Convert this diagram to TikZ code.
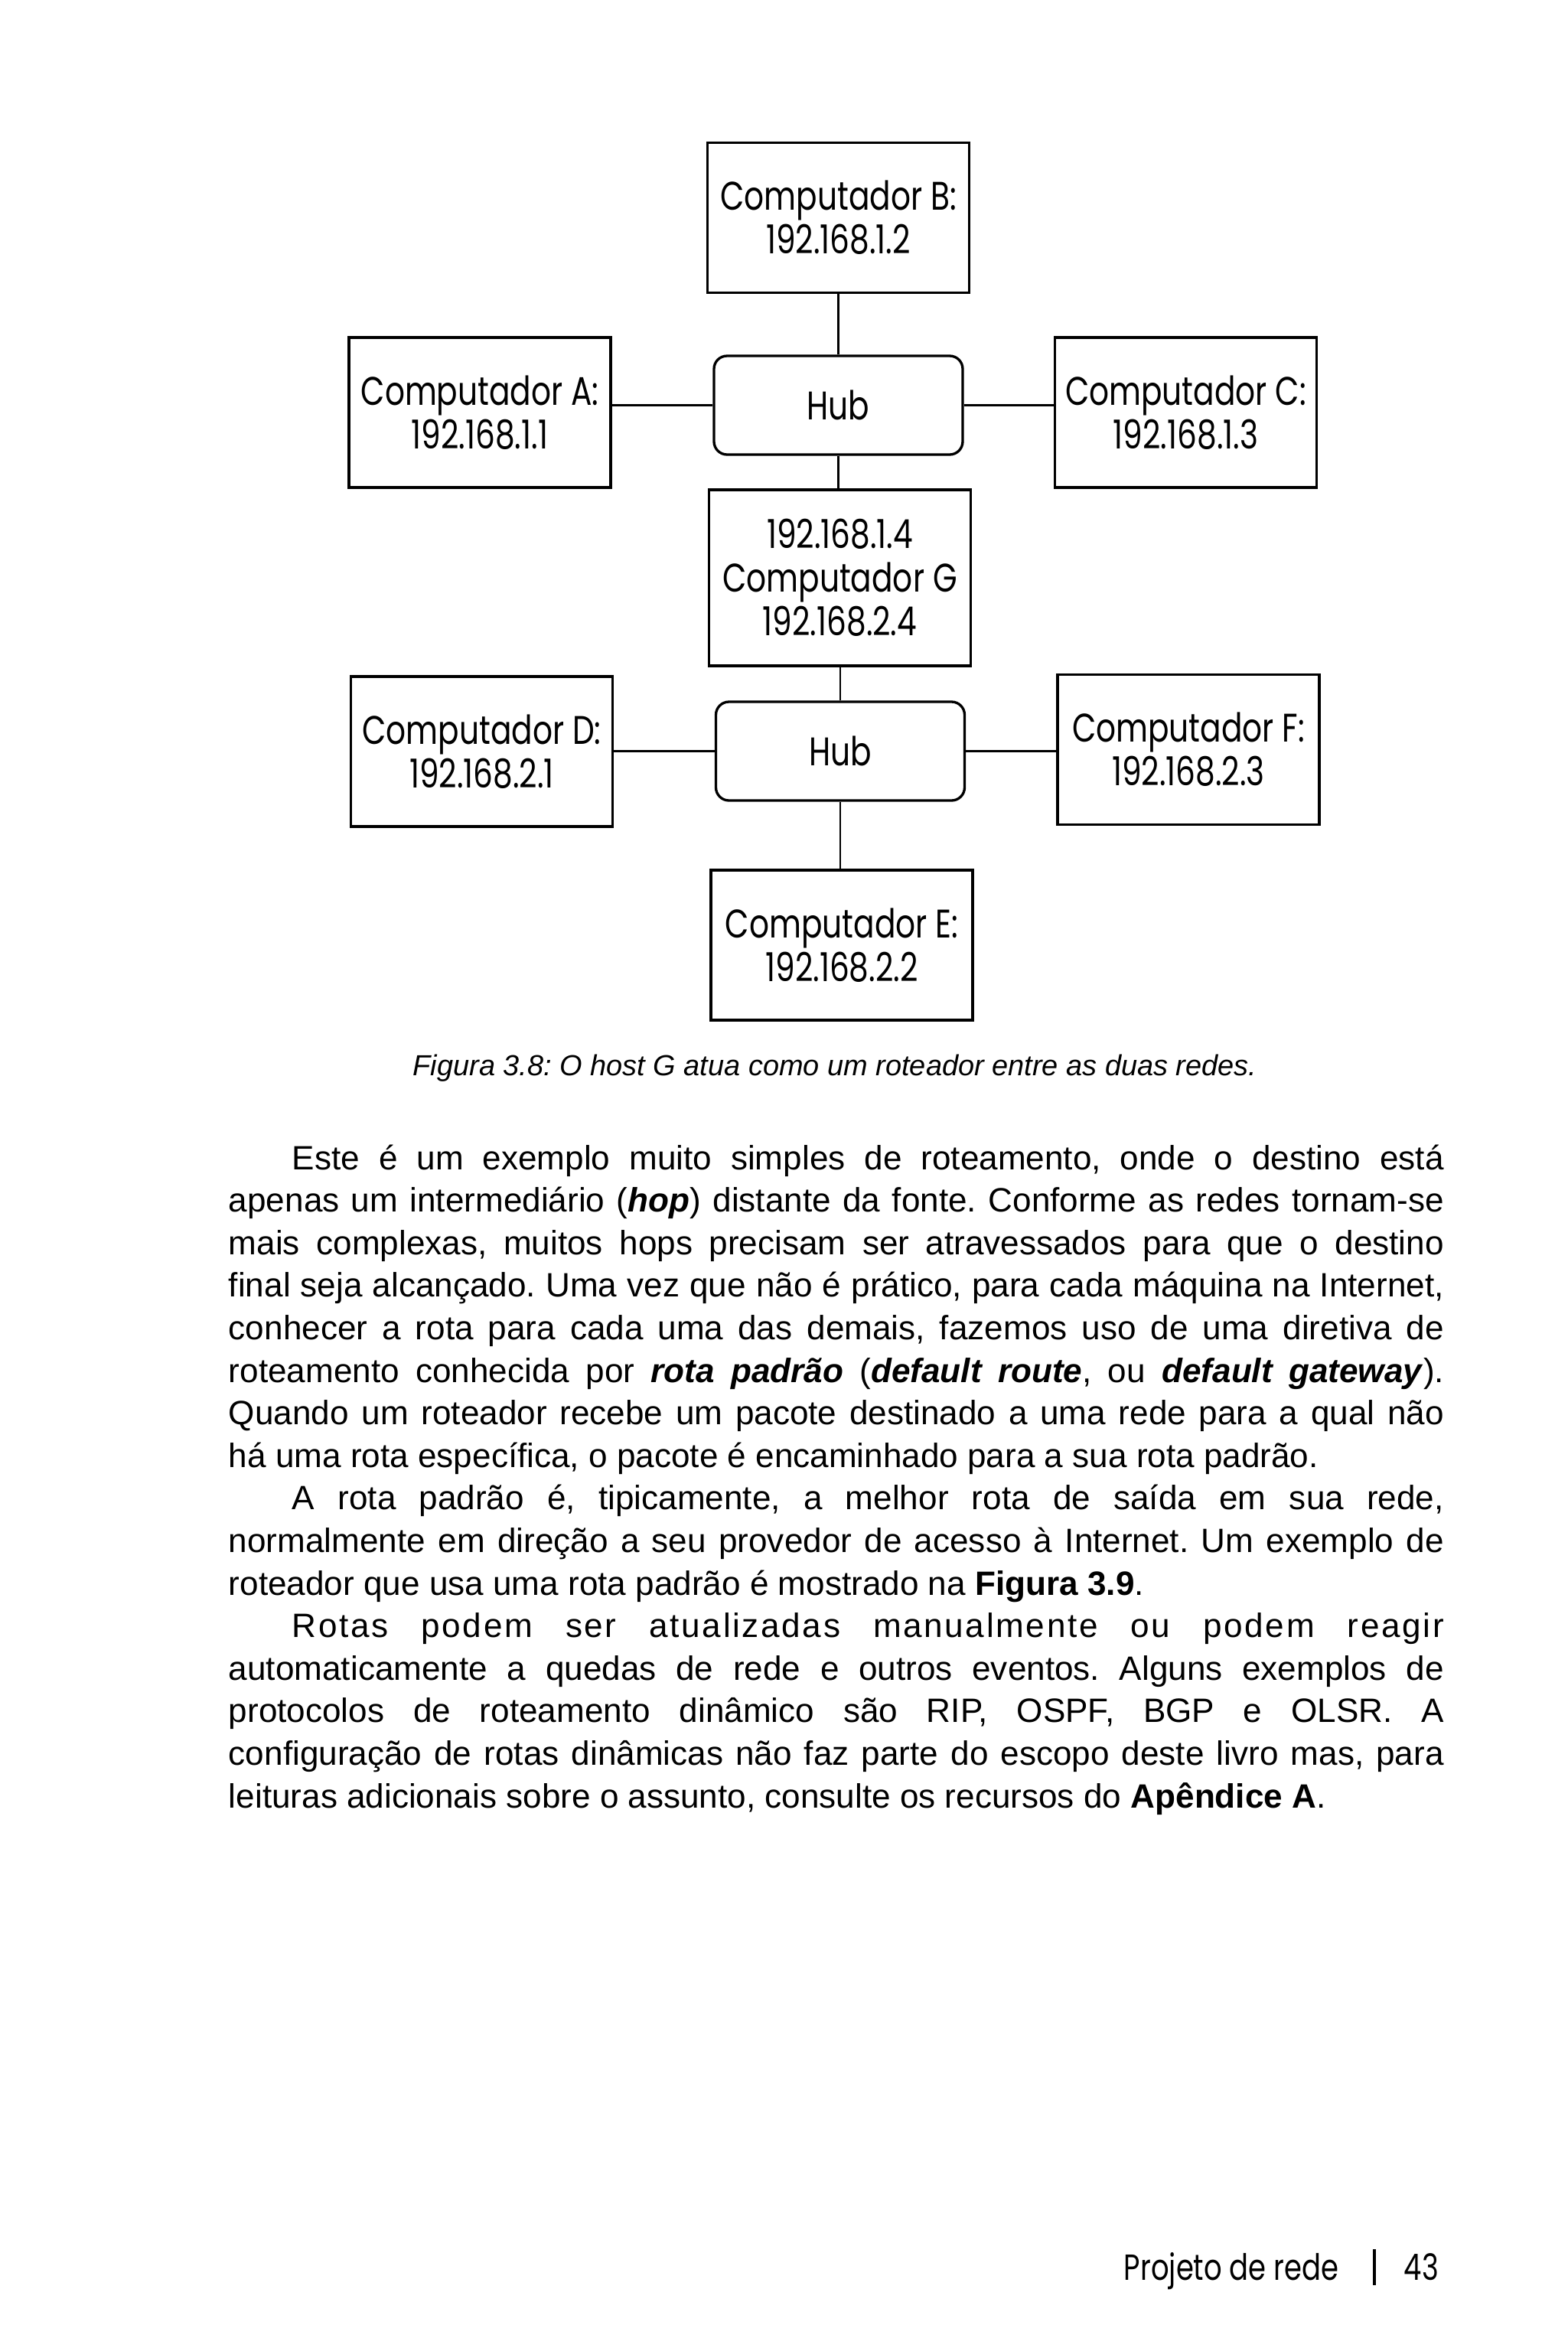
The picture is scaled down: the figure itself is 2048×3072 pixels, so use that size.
\documentclass[tikz,border=0pt]{standalone}
\usepackage{fontspec}
\setmainfont{Liberation Sans}
\newfontfamily\futura[FakeStretch=0.78]{Poppins}
\newcommand\diagfont{\futura\fontsize{11pt}{12pt}\selectfont}
\newcommand\bodyfont{\fontsize{9.3pt}{11.7pt}\selectfont}
\newcommand\capfont{\fontsize{8pt}{10pt}\selectfont\itshape}
\newcommand\myfootfont{\futura\fontsize{10pt}{12pt}\selectfont}
\def\px{0.2109375pt}
\newlength\fw \setlength\fw{334.97pt}
\newlength\iw \setlength\iw{317.46pt}
\frenchspacing
\begin{document}
\frenchspacing
\begin{tikzpicture}[x=0.2109375pt,y=-0.2109375pt]
\tikzset{
  box/.style={draw, line width=0.7pt, rectangle, inner sep=0pt,
    minimum width=342*\px, minimum height=196*\px, align=center, font=\diagfont},
  hubbox/.style={draw, line width=0.7pt, rectangle, rounded corners=3.6pt, inner sep=0pt,
    minimum width=325*\px, minimum height=129*\px, align=center, font=\diagfont},
  link/.style={line width=0.55pt},
  body/.style={inner sep=0pt, anchor=base west, font=\bodyfont\frenchspacing},
}
\useasboundingbox[fill=white] (0,0) rectangle (2048,3072);

% diagram
\node[box] (b) at (1095.5,284.5) {Computador B:\\192.168.1.2};
\node[box] (a) at (627,539) {Computador A:\\192.168.1.1};
\node[hubbox] (h1) at (1095.5,529.5) {Hub};
\node[box] (c) at (1549.5,539) {Computador C:\\192.168.1.3};
\node[box, minimum height=230*\px] (g) at (1097.5,755) {192.168.1.4\\Computador G\\192.168.2.4};
\node[box] (d) at (629.5,982) {Computador D:\\192.168.2.1};
\node[hubbox] (h2) at (1098,981.5) {Hub};
\node[box] (f) at (1553,979.5) {Computador F:\\192.168.2.3};
\node[box] (e) at (1100,1235) {Computador E:\\192.168.2.2};

\draw[link] (h1.north) -- (h1.north |- b.south);
\draw[link] (h1.west) -- (h1.west -| a.east);
\draw[link] (h1.east) -- (h1.east -| c.west);
\draw[link] (h1.south) -- (h1.south |- g.north);
\draw[link] (h2.north) -- (h2.north |- g.south);
\draw[link] (h2.west) -- (h2.west -| d.east);
\draw[link] (h2.east) -- (h2.east -| f.west);
\draw[link] (h2.south) -- (h2.south |- e.north);

% caption
\node[inner sep=0pt, anchor=base, font=\capfont\frenchspacing] (cap) at (1091,1405)
  {Figura 3.8: O host G atua como um roteador entre as duas redes.};

% body text
\node[body] (l1) at (381,1528) {\makebox[\iw][s]{Este é um exemplo muito simples de roteamento, onde o destino está}};
\node[body] (l2) at (298,1583.6) {\makebox[\fw][s]{apenas um intermediário (\textbf{\textit{hop}}) distante da fonte. Conforme as redes tornam-se}};
\node[body] (l3) at (298,1639.2) {\makebox[\fw][s]{mais complexas, muitos hops precisam ser atravessados para que o destino}};
\node[body] (l4) at (298,1694.8) {\makebox[\fw][s]{final seja alcançado. Uma vez que não é prático, para cada máquina na Internet,}};
\node[body] (l5) at (298,1750.4) {\makebox[\fw][s]{conhecer a rota para cada uma das demais, fazemos uso de uma diretiva de}};
\node[body] (l6) at (298,1806) {\makebox[\fw][s]{roteamento conhecida por \textbf{\textit{rota padrão}} (\textbf{\textit{default route}}, ou \textbf{\textit{default gateway}}).}};
\node[body] (l7) at (298,1861.6) {\makebox[\fw][s]{Quando um roteador recebe um pacote destinado a uma rede para a qual não}};
\node[body] (l8) at (298,1917.2) {há uma rota específica, o pacote é encaminhado para a sua rota padrão.};
\node[body] (l9) at (381,1972.8) {\makebox[\iw][s]{A rota padrão é, tipicamente, a melhor rota de saída em sua rede,}};
\node[body] (l10) at (298,2028.4) {\makebox[\fw][s]{normalmente em direção a seu provedor de acesso à Internet. Um exemplo de}};
\node[body] (l11) at (298,2084) {roteador que usa uma rota padrão é mostrado na \textbf{Figura 3.9}.};
\node[body] (l12) at (381,2139.6) {\makebox[\iw][s]{\addfontfeature{LetterSpace=6}Rotas podem ser atualizadas manualmente ou podem reagir}};
\node[body] (l13) at (298,2195.2) {\makebox[\fw][s]{automaticamente a quedas de rede e outros eventos. Alguns exemplos de}};
\node[body] (l14) at (298,2250.8) {\makebox[\fw][s]{protocolos de roteamento dinâmico são RIP, OSPF, BGP e OLSR. A}};
\node[body] (l15) at (298,2306.4) {\makebox[\fw][s]{configuração de rotas dinâmicas não faz parte do escopo deste livro mas, para}};
\node[body] (l16) at (298,2362) {leituras adicionais sobre o assunto, consulte os recursos do \textbf{Apêndice A}.};

% footer
\node[inner sep=0pt, anchor=base west, font=\myfootfont] (ft) at (1468,2979) {Projeto de rede};
\node[inner sep=0pt, anchor=base west, font=\myfootfont] (pg) at (1834,2979) {43};
\coordinate (bt) at (1796,2939);
\coordinate (bb) at (1796,2986);
\draw[line width=0.8pt] (bt) -- (bb);
\end{tikzpicture}
\end{document}
